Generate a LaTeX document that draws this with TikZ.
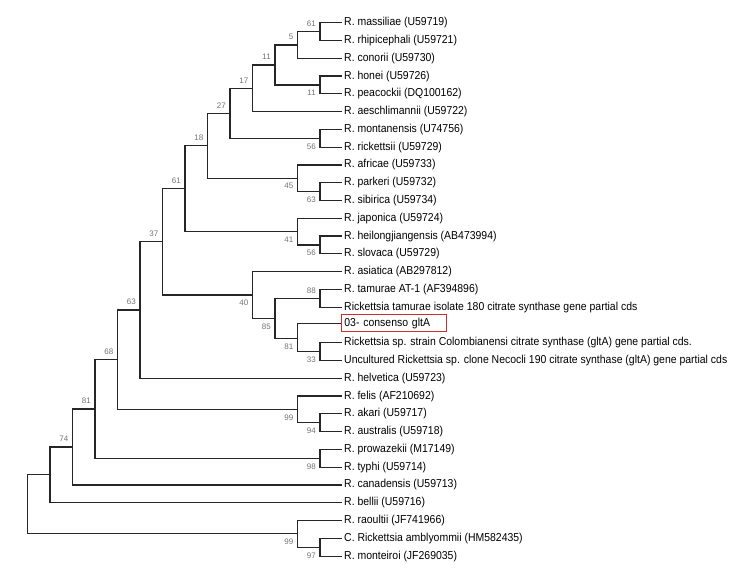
\documentclass[tikz,border=0pt]{standalone}
\usepackage{fontspec}
\setmainfont{Liberation Sans}
\newfontfamily\taxonfont{Liberation Sans}[FakeStretch=0.91]
\usepackage{tikz}
\usetikzlibrary{positioning}
\definecolor{boxred}{RGB}{205,45,45}

\tikzset{
  taxon/.style={anchor=west, inner sep=2pt, font=\taxonfont\fontsize{11.5pt}{13pt}\selectfont},
  boot/.style={inner sep=1pt, text=black!55, font=\fontsize{8pt}{9pt}\selectfont},
  branch/.style={line width=1.2pt, black!85}
}

\begin{document}
\begin{tikzpicture}[x=1pt, y=-17.78pt]
  \useasboundingbox (0pt,22.7pt) rectangle (736pt,-545.3pt);
  % taxa
  \node[taxon] (mas) at (342,0) {R. massiliae (U59719)};
  \node[taxon] (rhi) at (342,1) {R. rhipicephali (U59721)};
  \node[taxon] (con) at (342,2) {R. conorii (U59730)};
  \node[taxon] (hon) at (342,3) {R. honei (U59726)};
  \node[taxon] (pea) at (342,4) {R. peacockii (DQ100162)};
  \node[taxon] (aes) at (342,5) {R. aeschlimannii (U59722)};
  \node[taxon] (mon) at (342,6) {R. montanensis (U74756)};
  \node[taxon] (ric) at (342,7) {R. rickettsii (U59729)};
  \node[taxon] (afr) at (342,8) {R. africae (U59733)};
  \node[taxon] (par) at (342,9) {R. parkeri (U59732)};
  \node[taxon] (sib) at (342,10) {R. sibirica (U59734)};
  \node[taxon] (jap) at (342,11) {R. japonica (U59724)};
  \node[taxon] (hei) at (342,12) {R. heilongjiangensis (AB473994)};
  \node[taxon] (slo) at (342,13) {R. slovaca (U59729)};
  \node[taxon] (asi) at (342,14) {R. asiatica (AB297812)};
  \node[taxon] (tamAT) at (342,15) {R. tamurae AT-1 (AF394896)};
  \node[taxon] (tam180) at (342,16) {Rickettsia tamurae isolate 180 citrate synthase gene partial cds};
  \node[taxon, draw=boxred, line width=0.8pt, text width=99pt, minimum height=16pt, inner sep=3pt] (cons) at (341,16.9) {03- consenso gltA};
  \node[taxon] (col) at (342,18) {Rickettsia sp. strain Colombianensi citrate synthase (gltA) gene partial cds.};
  \node[taxon] (nec) at (342,19) {Uncultured Rickettsia sp. clone Necocli 190 citrate synthase (gltA) gene partial cds};
  \node[taxon] (hel) at (342,20) {R. helvetica (U59723)};
  \node[taxon] (fel) at (342,21) {R. felis (AF210692)};
  \node[taxon] (aka) at (342,22) {R. akari (U59717)};
  \node[taxon] (aus) at (342,23) {R. australis (U59718)};
  \node[taxon] (pro) at (342,24) {R. prowazekii (M17149)};
  \node[taxon] (typ) at (342,25) {R. typhi (U59714)};
  \node[taxon] (can) at (342,26) {R. canadensis (U59713)};
  \node[taxon] (bel) at (342,27) {R. bellii (U59716)};
  \node[taxon] (rao) at (342,28) {R. raoultii (JF741966)};
  \node[taxon] (amb) at (342,29) {C. Rickettsia amblyommii (HM582435)};
  \node[taxon] (mnt) at (342,30) {R. monteiroi (JF269035)};

  % internal nodes
  \coordinate (n61a) at (320,0.5);
  \coordinate (n5) at (297.5,1.25);
  \coordinate (n11b) at (320,3.5);
  \coordinate (n11a) at (275,2.375);
  \coordinate (n17) at (252.5,3.6875);
  \coordinate (n56a) at (320,6.5);
  \coordinate (n27) at (230,5.0938);
  \coordinate (n63a) at (320,9.5);
  \coordinate (n45) at (297.5,8.75);
  \coordinate (n18) at (207.5,6.9219);
  \coordinate (n56b) at (320,12.5);
  \coordinate (n41) at (297.5,11.75);
  \coordinate (n61b) at (185,9.3359);
  \coordinate (n88) at (320,15.5);
  \coordinate (n33) at (320,18.5);
  \coordinate (n81a) at (297.5,17.75);
  \coordinate (n85) at (275,16.625);
  \coordinate (n40) at (252.5,15.3125);
  \coordinate (n37) at (162.5,12.3242);
  \coordinate (n63b) at (140,16.1621);
  \coordinate (n94) at (320,22.5);
  \coordinate (n99a) at (297.5,21.75);
  \coordinate (n68) at (117.5,18.9561);
  \coordinate (n98) at (320,24.5);
  \coordinate (n81b) at (95,21.728);
  \coordinate (n74) at (72.5,23.864);
  \coordinate (nbel) at (50,25.432);
  \coordinate (n97) at (320,29.5);
  \coordinate (n99b) at (297.5,28.75);
  \coordinate (root) at (27.5,27.091);

  % branches
  \foreach \p/\c in {n61a/mas, n61a/rhi, n5/n61a, n5/con, n11b/hon, n11b/pea,
      n11a/n5, n11a/n11b, n17/n11a, n17/aes, n56a/mon, n56a/ric, n27/n17, n27/n56a,
      n63a/par, n63a/sib, n45/afr, n45/n63a, n18/n27, n18/n45, n56b/hei, n56b/slo,
      n41/jap, n41/n56b, n61b/n18, n61b/n41, n88/tamAT, n88/tam180, n33/col, n33/nec,
      n81a/cons, n81a/n33, n85/n88, n85/n81a, n40/asi, n40/n85, n37/n61b, n37/n40,
      n63b/n37, n63b/hel, n94/aka, n94/aus, n99a/fel, n99a/n94, n68/n63b, n68/n99a,
      n98/pro, n98/typ, n81b/n68, n81b/n98, n74/n81b, n74/can, nbel/n74, nbel/bel,
      n97/amb, n97/mnt, n99b/rao, n99b/n97, root/nbel, root/n99b}
    \draw[branch] (\p) |- (\c);

  % bootstrap values
  \node[boot, above left=4pt and 3pt of n61a] (b61a) {61};
  \node[boot, above left=4pt and 3pt of n5] (b5) {5};
  \node[boot, below left=4pt and 3pt of n11b] (b11b) {11};
  \node[boot, above left=4pt and 3pt of n11a] (b11a) {11};
  \node[boot, above left=4pt and 3pt of n17] (b17) {17};
  \node[boot, below left=4pt and 3pt of n56a] (b56a) {56};
  \node[boot, above left=4pt and 3pt of n27] (b27) {27};
  \node[boot, below left=4pt and 3pt of n63a] (b63a) {63};
  \node[boot, below left=4pt and 3pt of n45] (b45) {45};
  \node[boot, above left=4pt and 3pt of n18] (b18) {18};
  \node[boot, below left=4pt and 3pt of n56b] (b56b) {56};
  \node[boot, below left=4pt and 3pt of n41] (b41) {41};
  \node[boot, above left=4pt and 3pt of n61b] (b61b) {61};
  \node[boot, above left=4pt and 3pt of n88] (b88) {88};
  \node[boot, below left=4pt and 3pt of n33] (b33) {33};
  \node[boot, below left=4pt and 3pt of n81a] (b81a) {81};
  \node[boot, below left=4pt and 3pt of n85] (b85) {85};
  \node[boot, below left=4pt and 3pt of n40] (b40) {40};
  \node[boot, above left=4pt and 3pt of n37] (b37) {37};
  \node[boot, above left=4pt and 3pt of n63b] (b63b) {63};
  \node[boot, below left=4pt and 3pt of n94] (b94) {94};
  \node[boot, below left=4pt and 3pt of n99a] (b99a) {99};
  \node[boot, above left=4pt and 3pt of n68] (b68) {68};
  \node[boot, below left=4pt and 3pt of n98] (b98) {98};
  \node[boot, above left=4pt and 3pt of n81b] (b81b) {81};
  \node[boot, above left=4pt and 3pt of n74] (b74) {74};
  \node[boot, below left=4pt and 3pt of n97] (b97) {97};
  \node[boot, below left=4pt and 3pt of n99b] (b99b) {99};
\end{tikzpicture}
\end{document}
